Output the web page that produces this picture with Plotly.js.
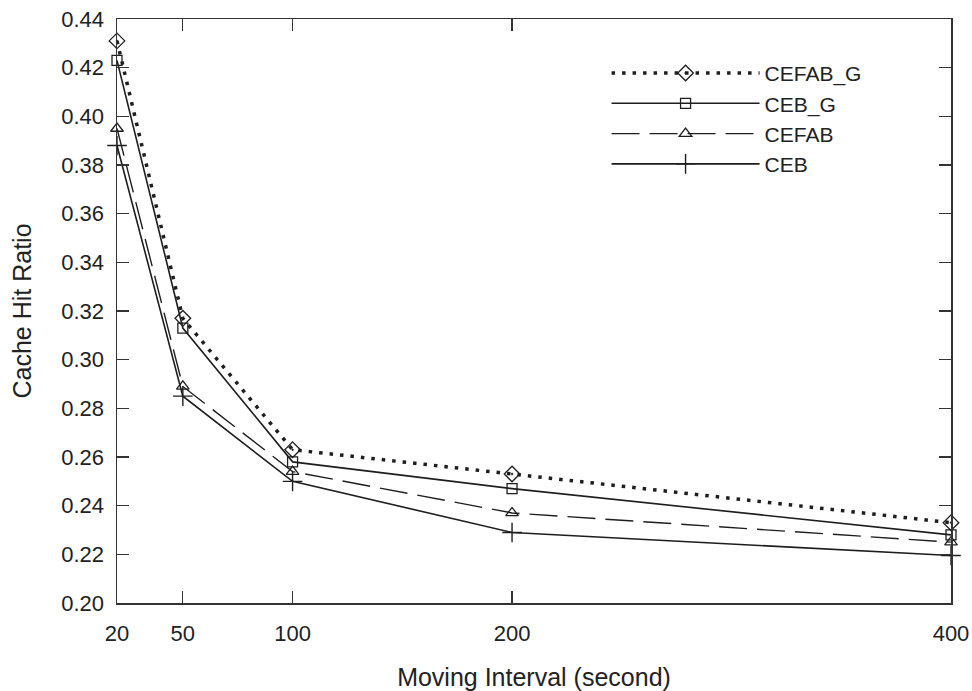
<!DOCTYPE html>
<html>
<head>
<meta charset="utf-8">
<script src="https://cdn.plot.ly/plotly-3.0.1.min.js"></script>
<style>html,body{margin:0;padding:0;background:#fff;}#chart{width:972px;height:691px;}</style>
</head>
<body>
<div id="chart"></div>
<script>
// Data
const intervals = [20, 50, 100, 200, 400];
const tickLabels = ["20", "50", "100", "200", "400"];
const seriesNames = ["CEFAB_G", "CEB_G", "CEFAB", "CEB"];
const cefabG = [0.431, 0.317, 0.263, 0.253, 0.233];
const cebG   = [0.423, 0.313, 0.258, 0.247, 0.228];
const cefab  = [0.395, 0.289, 0.254, 0.237, 0.225];
const ceb    = [0.388, 0.285, 0.250, 0.229, 0.2195];

const ink = "#1e1e1e";
const fontFam = "Liberation Sans, Arial, sans-serif";

const traces = [
  {
    x: intervals, y: cefabG, name: seriesNames[0], type: "scatter", mode: "lines+markers",
    line: {color: ink, width: 3.5, dash: "3.5px,7px"},
    marker: {symbol: "diamond-open-dot", size: 12, color: ink, line: {color: ink, width: 1.3}},
    cliponaxis: false
  },
  {
    x: intervals, y: cebG, name: seriesNames[1], type: "scatter", mode: "lines+markers",
    line: {color: ink, width: 1.6},
    marker: {symbol: "square-open", size: 10, color: ink, line: {color: ink, width: 1.3}},
    cliponaxis: false
  },
  {
    x: intervals, y: cefab, name: seriesNames[2], type: "scatter", mode: "lines+markers",
    line: {color: ink, width: 1.4, dash: "28px,10px"},
    marker: {symbol: "triangle-up-open", size: 11, color: ink, line: {color: ink, width: 1.3}},
    cliponaxis: false
  },
  {
    x: intervals, y: ceb, name: seriesNames[3], type: "scatter", mode: "lines+markers",
    line: {color: ink, width: 1.6},
    marker: {symbol: "cross-thin-open", size: 14, color: ink, line: {color: ink, width: 1.4}},
    cliponaxis: false
  }
];

const layout = {
  width: 972, height: 691,
  margin: {l: 117, r: 21, t: 19, b: 88, pad: 0},
  paper_bgcolor: "#fff", plot_bgcolor: "#fff",
  font: {family: fontFam, size: 22, color: "#222"},
  showlegend: true,
  legend: {
    x: 0.587, y: 0.942, xanchor: "left", yanchor: "top",
    bgcolor: "rgba(0,0,0,0)", borderwidth: 0,
    font: {family: fontFam, size: 21, color: "#222"},
    itemwidth: 148, tracegroupgap: 0
  },
  xaxis: {
    range: [20, 400], type: "linear",
    tickmode: "array", tickvals: intervals, ticktext: tickLabels,
    ticks: "inside", ticklen: 12, tickwidth: 1.2, tickcolor: "#333",
    showline: true, linecolor: "#333", linewidth: 1.5, mirror: "ticks",
    showgrid: false, zeroline: false,
    ticklabelstandoff: 10,
    tickfont: {family: fontFam, size: 22, color: "#222"},
    title: {text: "Moving Interval (second)", font: {family: fontFam, size: 25, color: "#222"}, standoff: 30}
  },
  yaxis: {
    range: [0.20, 0.44], type: "linear",
    tick0: 0.20, dtick: 0.02, tickformat: ".2f",
    ticks: "inside", ticklen: 12, tickwidth: 1.2, tickcolor: "#333",
    showline: true, linecolor: "#333", linewidth: 1.5, mirror: "ticks",
    showgrid: false, zeroline: false,
    ticklabelstandoff: 7,
    tickfont: {family: fontFam, size: 22, color: "#222"},
    title: {text: "Cache Hit Ratio", font: {family: fontFam, size: 25, color: "#222"}, standoff: 22}
  }
};

Plotly.newPlot("chart", traces, layout, {displayModeBar: false, staticPlot: true});
</script>
</body>
</html>
